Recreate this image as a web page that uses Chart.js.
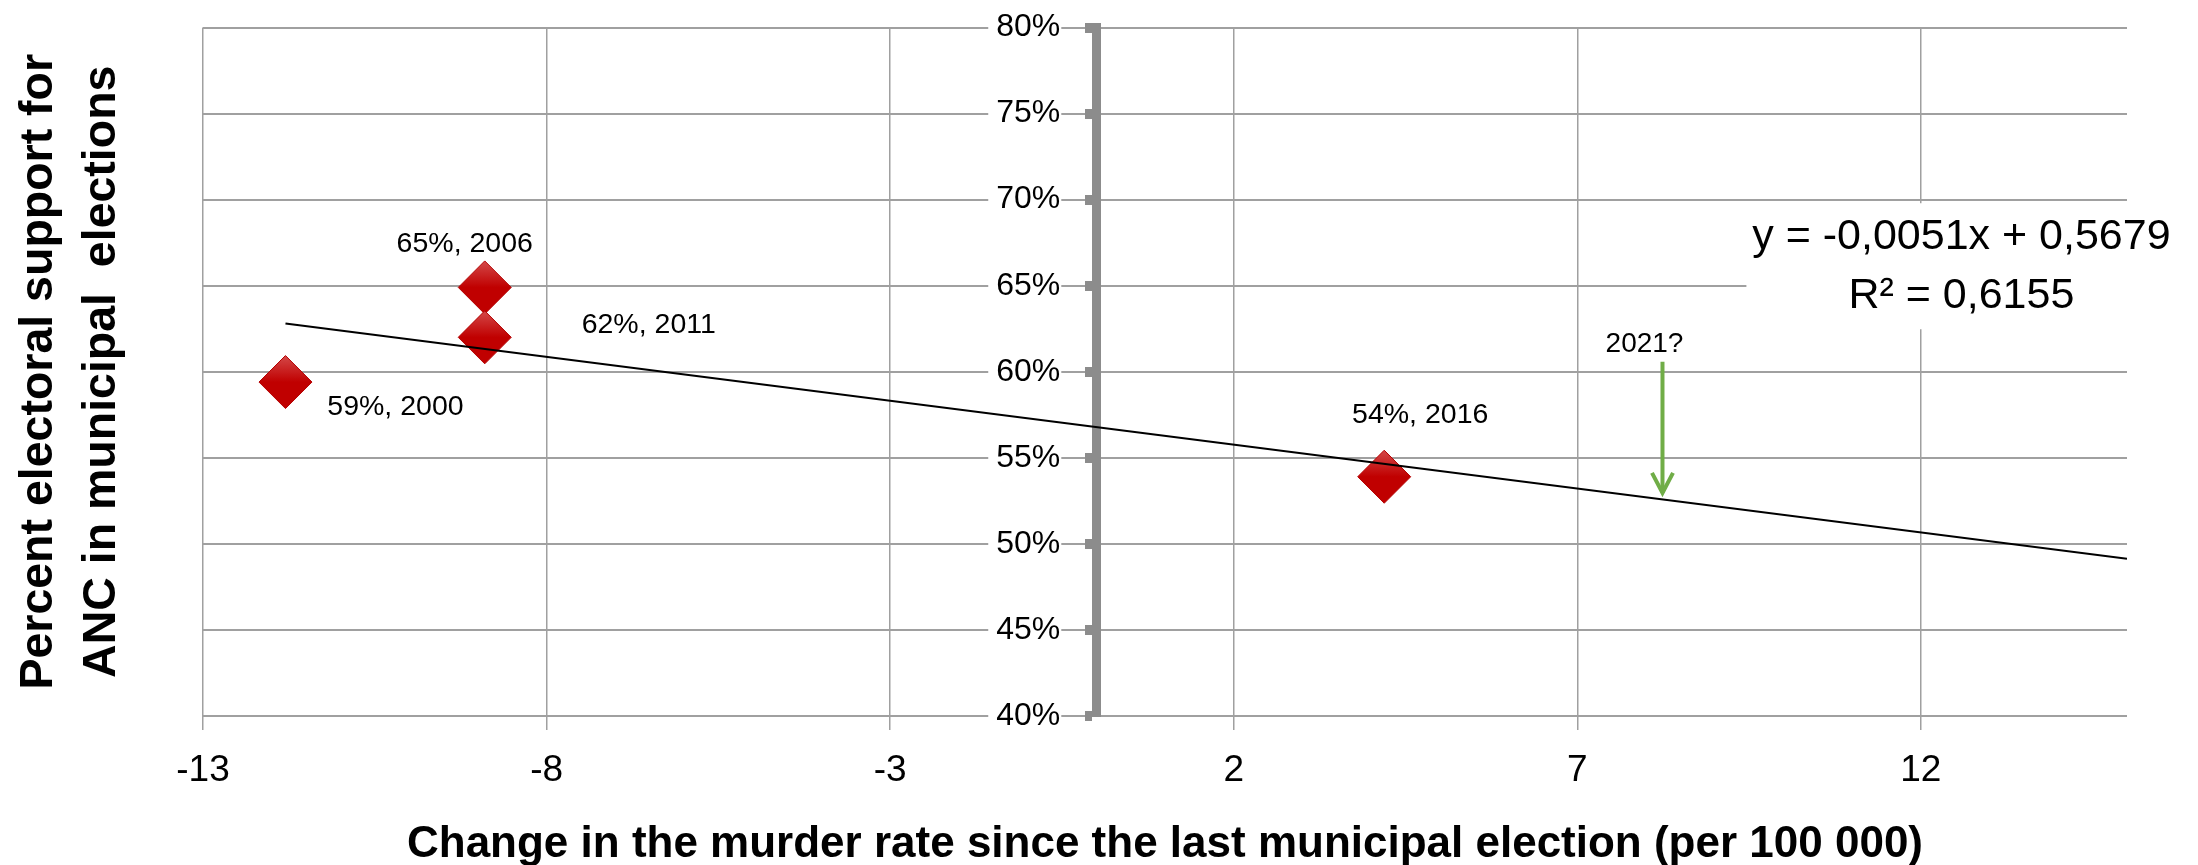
<!DOCTYPE html>
<html>
<head>
<meta charset="utf-8">
<script src="https://cdn.jsdelivr.net/npm/chart.js@4.4.1/dist/chart.umd.min.js"></script>
<style>
  html, body { margin: 0; padding: 0; background: #fff; }
  #wrap { width: 2198px; height: 865px; }
</style>
</head>
<body>
<div id="wrap"><canvas id="myChart"></canvas></div>
<script>
// values
var years = [2000, 2006, 2011, 2016];
var murderChange = [-11.8, -8.9, -8.9, 4.19];
var ancSupport = [0.594, 0.649, 0.620, 0.539];

var xTicks = [-13, -8, -3, 2, 7, 12];
var yTicks = [0.40, 0.45, 0.50, 0.55, 0.60, 0.65, 0.70, 0.75, 0.80];

// trendline as printed on the chart
var trendSlope = -0.0051;
var trendIntercept = 0.5679;
var trendR2 = 0.6155;
var trendTo = 15;

// the "2021?" arrow
var arrowLabel = '2021?';
var arrowX = 8.24;
var arrowFrom = 0.6058;
var arrowTo = 0.5296;

// where the equation box sits (data units)
var eqAnchor = [12.59, 0.6613];

var xTitle = 'Change in the murder rate since the last municipal election (per 100 000)';
var yTitle = ['Percent electoral support for', 'ANC in municipal  elections'];

var FONT = '"Liberation Sans", Arial, sans-serif';
var labelOffsets = [[110, 25], [-20, -43], [164, -12], [36, -62]];

function trendAt(x) { return trendSlope * x + trendIntercept; }
function comma(v) { return v.toFixed(4).replace('.', ','); }

var trendFrom = Math.min.apply(null, murderChange);

var annotations = {
    id: 'annotations',
    beforeDraw: function(chart) {
        // put the % labels left of the centred axis
        var axisPx = chart.scales.x.getPixelForValue(0);
        chart.scales.y.getLabelItems().forEach(function(it) {
            it.options.translation[0] = axisPx - 36;
        });
    },
    beforeDatasetsDraw: function(chart) {
        var ctx = chart.ctx;
        var cx = chart.scales.x.getPixelForValue(eqAnchor[0]);
        var cy = chart.scales.y.getPixelForValue(eqAnchor[1]);
        ctx.save();
        ctx.fillStyle = '#fff';
        ctx.fillRect(cx - 215, cy - 63, 430, 126);
        ctx.fillStyle = '#000';
        ctx.font = '43px ' + FONT;
        ctx.textAlign = 'center';
        ctx.textBaseline = 'middle';
        ctx.fillText('y = ' + comma(trendSlope) + 'x + ' + comma(trendIntercept), cx, cy - 29);
        ctx.fillText('R\u00b2 = ' + comma(trendR2), cx, cy + 30);
        ctx.restore();
    },
    afterDatasetsDraw: function(chart) {
        var ctx = chart.ctx;
        var xs = chart.scales.x, ys = chart.scales.y;
        ctx.save();
        ctx.fillStyle = '#000';
        ctx.textAlign = 'center';
        ctx.textBaseline = 'middle';
        ctx.font = '28.5px ' + FONT;
        chart.getDatasetMeta(1).data.forEach(function(pt, i) {
            var txt = Math.round(ancSupport[i] * 100) + '%, ' + years[i];
            ctx.fillText(txt, pt.x + labelOffsets[i][0], pt.y + labelOffsets[i][1]);
        });

        // arrow head and label
        var ax = xs.getPixelForValue(arrowX);
        var top = ys.getPixelForValue(arrowFrom);
        var tip = ys.getPixelForValue(arrowTo);
        ctx.font = '28px ' + FONT;
        ctx.fillText(arrowLabel, ax - 18, top - 17);
        ctx.strokeStyle = '#70ad47';
        ctx.lineWidth = 4;
        ctx.beginPath();
        ctx.moveTo(ax - 10.5, tip - 20);
        ctx.lineTo(ax, tip);
        ctx.lineTo(ax + 10.5, tip - 20);
        ctx.stroke();
        ctx.restore();
    }
};

var ctx = document.getElementById('myChart').getContext('2d');
var myChart = new Chart(ctx, {
    type: 'scatter',
    data: {
        datasets: [{
            label: 'trend',
            data: [{x: trendFrom, y: trendAt(trendFrom)}, {x: trendTo, y: trendAt(trendTo)}],
            showLine: true,
            borderColor: '#000',
            borderWidth: 2,
            pointRadius: 0,
            order: 0,
            xAxisID: 'x',
            yAxisID: 'y'
        }, {
            label: 'ANC support',
            data: murderChange.map(function(v, i) { return {x: v, y: ancSupport[i]}; }),
            pointStyle: 'rectRot',
            pointRadius: 26.5,
            backgroundColor: function(c) {
                var chart = c.chart;
                if (c.type !== 'data' || !chart.chartArea) return '#c00000';
                var py = chart.scales.y.getPixelForValue(c.raw.y);
                var g = chart.ctx.createLinearGradient(0, py - 27, 0, py + 27);
                g.addColorStop(0, '#d44a4a');
                g.addColorStop(0.5, '#c00000');
                g.addColorStop(1, '#c00000');
                return g;
            },
            borderColor: '#b40000',
            borderWidth: 1,
            order: 1,
            xAxisID: 'x',
            yAxisID: 'y'
        }, {
            label: '2021',
            data: [{x: arrowX, y: arrowFrom}, {x: arrowX, y: arrowTo}],
            showLine: true,
            borderColor: '#70ad47',
            borderWidth: 4,
            pointRadius: 0,
            order: 2,
            xAxisID: 'x',
            yAxisID: 'y'
        }]
    },
    options: {
        responsive: true,
        maintainAspectRatio: false,
        devicePixelRatio: 1,
        animation: false,
        events: [],
        layout: { padding: { left: 0, right: 71, top: 24, bottom: 0 } },
        plugins: {
            legend: { display: false },
            tooltip: { enabled: false }
        },
        scales: {
            x: {
                type: 'linear',
                position: 'bottom',
                min: -13,
                max: 15,
                afterBuildTicks: function(s) { s.ticks = xTicks.map(function(v) { return {value: v}; }); },
                grid: { color: '#a0a0a0', lineWidth: 1.5, tickLength: 14, tickColor: '#a0a0a0' },
                border: { display: false },
                ticks: { font: { family: FONT, size: 37 }, color: '#000', padding: 18.8, maxRotation: 0, autoSkip: false },
                title: {
                    display: true,
                    text: xTitle,
                    color: '#000',
                    font: { family: FONT, size: 44, weight: 'bold', lineHeight: 1.15 },
                    padding: { top: 7.3, bottom: -4.9 }
                }
            },
            y: {
                type: 'linear',
                position: { x: 0 },
                min: 0.4,
                max: 0.8,
                afterBuildTicks: function(s) { s.ticks = yTicks.map(function(v) { return {value: v}; }); },
                grid: { color: '#a0a0a0', lineWidth: 2, tickColor: '#8c8c8c', tickWidth: 10, tickLength: 7 },
                border: { color: '#8c8c8c', width: 9 },
                ticks: {
                    font: { family: FONT, size: 32 },
                    color: '#000',
                    padding: 0,
                    callback: function(v) { return Math.round(v * 100) + '%'; },
                    showLabelBackdrop: true,
                    backdropColor: '#fff',
                    backdropPadding: { left: 8, right: 1, top: 0, bottom: 0 }
                }
            },
            yTitle: {
                type: 'linear',
                position: 'left',
                display: true,
                grid: { display: false, drawTicks: false },
                border: { display: false },
                ticks: { display: false },
                title: {
                    display: true,
                    text: yTitle,
                    color: '#000',
                    font: { family: FONT, size: 46.5, weight: 'bold', lineHeight: 1.355 },
                    padding: { top: 7.5, bottom: 69.5 }
                }
            }
        }
    },
    plugins: [annotations]
});
</script>
</body>
</html>
